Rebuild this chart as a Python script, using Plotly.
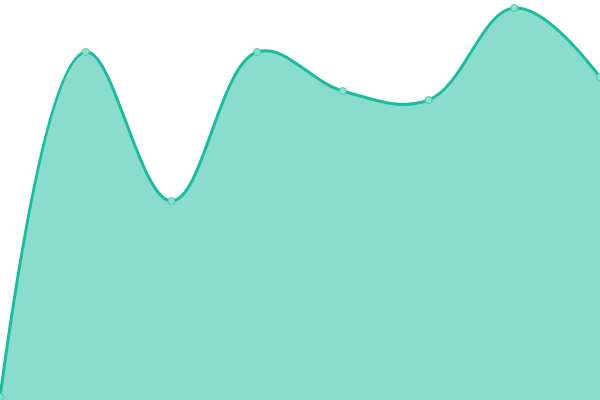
import plotly.graph_objects as go

x_vals = [0, 1, 2, 3, 4, 5, 6, 7]
y_vals = [3, 348, 199, 348, 309, 300, 392, 323]

line_color = '#1abc9c'

fig = go.Figure()
fig.add_trace(go.Scatter(
    x=x_vals,
    y=y_vals,
    mode='lines+markers',
    fill='tozeroy',
    fillcolor='rgba(26,188,156,0.51)',
    line=dict(color=line_color, width=3, shape='spline', smoothing=1.1),
    marker=dict(size=7, color='#8ee0cf', line=dict(color='#4cc9b0', width=1)),
    cliponaxis=False,
    hoverinfo='x+y'
))
fig.update_layout(
    width=600, height=400,
    margin=dict(l=0, r=0, t=0, b=0),
    paper_bgcolor='white',
    plot_bgcolor='white',
    showlegend=False,
    xaxis=dict(range=[0, 7], visible=False, fixedrange=True),
    yaxis=dict(range=[0, 400], visible=False, fixedrange=True),
)
# drop the default 8px body margin so the chart sits at the window corner
fig.write_html("out.html", config={'displayModeBar': False},
               post_script="document.body.style.margin='0';")
